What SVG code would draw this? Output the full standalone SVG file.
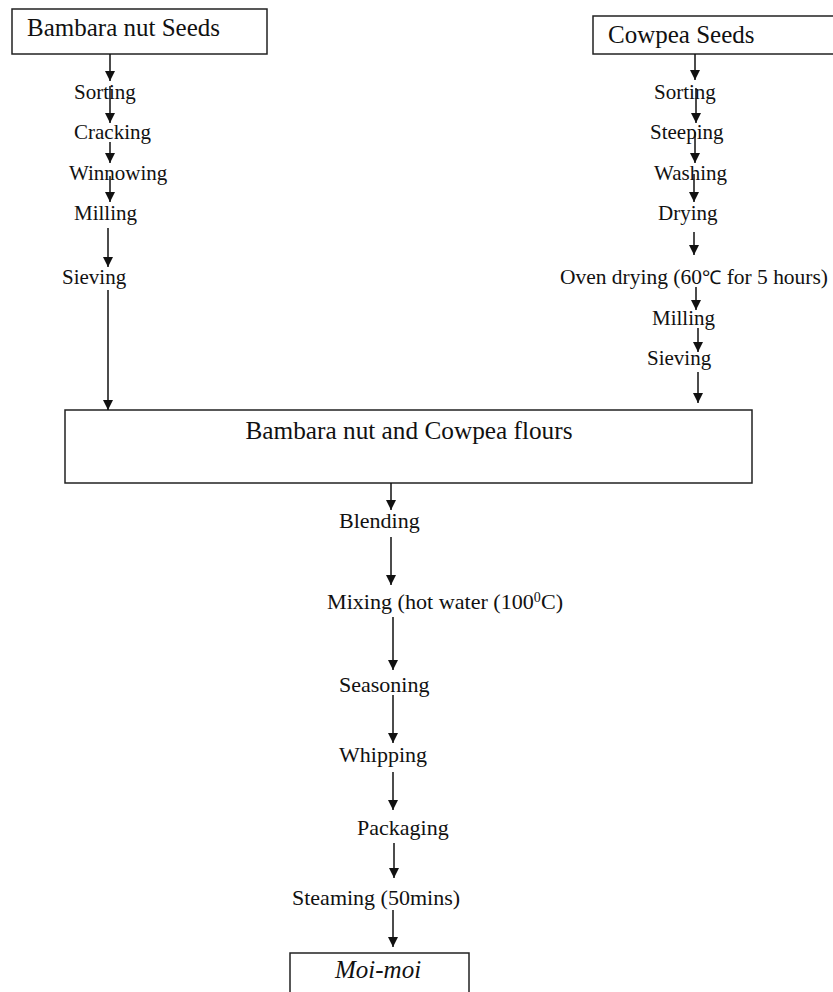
<svg xmlns="http://www.w3.org/2000/svg" width="833" height="992" viewBox="0 0 833 992">
<style>
.box{fill:#fff;stroke:#222;stroke-width:1.5}
.t{font-family:"Liberation Serif","Times New Roman",serif;font-size:21px;fill:#111}
.b{font-size:22px}
.h{font-family:"Liberation Serif","Times New Roman",serif;font-size:25px;fill:#111}
.c line{stroke:#111;stroke-width:1.5;marker-end:url(#ah)}
</style>
<defs>
<marker id="ah" markerUnits="userSpaceOnUse" markerWidth="10" markerHeight="11" refX="10" refY="5" orient="auto" viewBox="0 0 10 10">
<path d="M0,0 L10,5 L0,10 z" fill="#111"/>
</marker>
</defs>
<rect width="833" height="992" fill="#fff"/>
<g id="bambara"><rect class="box" x="12" y="9" width="255" height="45"/><text class="h" x="27" y="36">Bambara nut Seeds</text></g>
<g id="cowpea"><rect class="box" x="593" y="16" width="250" height="38"/><text class="h" x="608" y="43">Cowpea Seeds</text></g>
<g id="b-sorting"><text class="t" x="74" y="99">Sorting</text></g>
<g id="b-cracking"><text class="t" x="74" y="139">Cracking</text></g>
<g id="b-winnowing"><text class="t" x="69" y="180">Winnowing</text></g>
<g id="b-milling"><text class="t" x="74" y="220">Milling</text></g>
<g id="b-sieving"><text class="t" x="62" y="284">Sieving</text></g>
<g id="c-sorting"><text class="t" x="654" y="99">Sorting</text></g>
<g id="c-steeping"><text class="t" x="650" y="139">Steeping</text></g>
<g id="c-washing"><text class="t" x="654" y="180">Washing</text></g>
<g id="c-drying"><text class="t" x="658" y="220">Drying</text></g>
<g id="c-oven"><text class="t" x="560" y="284" textLength="268" lengthAdjust="spacingAndGlyphs">Oven drying (60<tspan font-size="19">℃</tspan> for 5 hours)</text></g>
<g id="c-milling"><text class="t" x="652" y="325">Milling</text></g>
<g id="c-sieving"><text class="t" x="647" y="365">Sieving</text></g>
<g id="flours"><rect class="box" x="65" y="410" width="687" height="73"/><text class="h" x="409" y="439" text-anchor="middle" textLength="327" lengthAdjust="spacingAndGlyphs">Bambara nut and Cowpea flours</text></g>
<g id="blending"><text class="t b" x="339" y="528">Blending</text></g>
<g id="mixing"><text class="t b" x="327" y="609" textLength="236" lengthAdjust="spacingAndGlyphs">Mixing (hot water (100<tspan font-size="14" dy="-7">0</tspan><tspan dy="7">C)</tspan></text></g>
<g id="seasoning"><text class="t b" x="339" y="692">Seasoning</text></g>
<g id="whipping"><text class="t b" x="339" y="762">Whipping</text></g>
<g id="packaging"><text class="t b" x="357" y="835">Packaging</text></g>
<g id="steaming"><text class="t b" x="292" y="905">Steaming (50mins)</text></g>
<g id="moimoi"><rect class="box" x="290" y="953" width="179" height="50"/><text class="h" x="335" y="978" font-style="italic">Moi-moi</text></g>
<g id="connectors" class="c">
<line x1="110" y1="54" x2="110" y2="81"/>
<line x1="110" y1="86" x2="110" y2="123"/>
<line x1="110" y1="142" x2="110" y2="163"/>
<line x1="110" y1="176" x2="110" y2="202"/>
<line x1="108" y1="228" x2="108" y2="267"/>
<line x1="108" y1="290" x2="108" y2="410"/>
<line x1="695" y1="54" x2="695" y2="80"/>
<line x1="696" y1="88" x2="696" y2="123"/>
<line x1="695" y1="132" x2="695" y2="163"/>
<line x1="694" y1="174" x2="694" y2="202"/>
<line x1="694" y1="232" x2="694" y2="255"/>
<line x1="696" y1="287" x2="696" y2="310"/>
<line x1="698" y1="328" x2="698" y2="352"/>
<line x1="698" y1="372" x2="698" y2="403"/>
<line x1="391" y1="483" x2="391" y2="510"/>
<line x1="391" y1="537" x2="391" y2="585"/>
<line x1="393" y1="617" x2="393" y2="670"/>
<line x1="393" y1="695" x2="393" y2="743"/>
<line x1="393" y1="772" x2="393" y2="810"/>
<line x1="394" y1="843" x2="394" y2="878"/>
<line x1="393" y1="910" x2="393" y2="947"/>
</g>
</svg>
